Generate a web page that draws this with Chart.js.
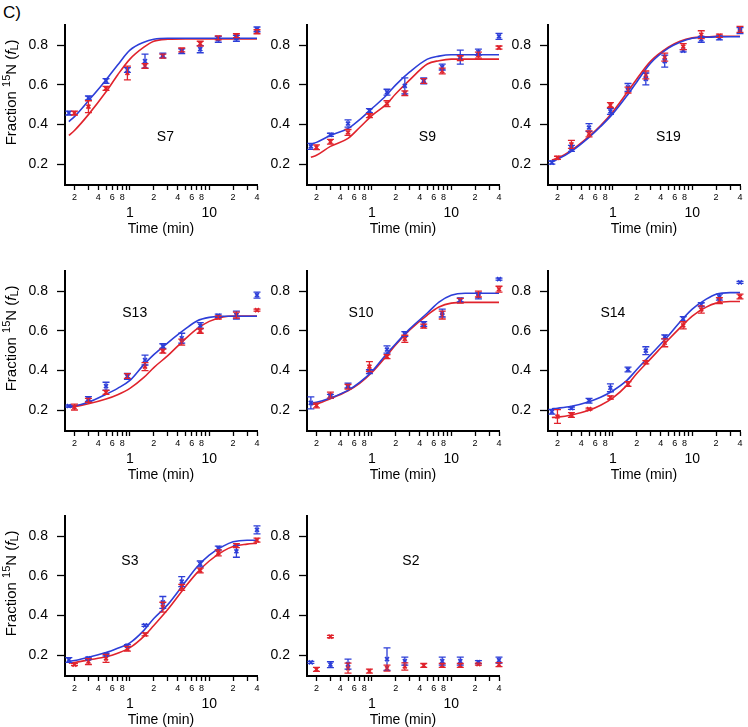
<!DOCTYPE html>
<html>
<head>
<meta charset="utf-8">
<script src="https://cdn.jsdelivr.net/npm/chart.js@4.4.0/dist/chart.umd.min.js"></script>
<style>
  html, body { margin: 0; padding: 0; background: #fff; overflow: hidden; }
  #wrap { position: relative; width: 748px; height: 727px; }
  #wrap canvas { position: absolute; }
  #tag { position: absolute; left: 3px; top: 3px; font: 17px "Liberation Sans", Arial, sans-serif; color: #000; }
</style>
</head>
<body>
<div id="wrap">
  <div id="tag">C)</div>
</div>
<script>
// sampling times (min); the red series starts slightly later
const blueTimes = [0.17, 0.3, 0.5, 0.93, 1.55, 2.6, 4.5, 7.7, 13, 22, 40];
const redTimes  = [0.2, 0.3, 0.5, 0.93, 1.55, 2.6, 4.5, 7.7, 13, 22, 40];
const fitTimes  = [0.17, 0.2, 0.3, 0.5, 0.7, 1, 1.5, 2, 3, 5, 7, 10, 15, 20, 30, 40];

// axis ticks
const xMinorTicks  = [0.2, 0.3, 0.4, 0.5, 0.6, 0.7, 0.8, 0.9, 1, 2, 3, 4, 5, 6, 7, 8, 9, 10, 20, 30, 40];
const xMinorLabels = ['2', '', '4', '', '6', '', '8', '', '', '2', '', '4', '', '6', '', '8', '', '', '2', '', '4'];
const xMajorTicks  = [1, 10];
const xMajorLabels = ['1', '10'];
const yTicks       = [0.2, 0.4, 0.6, 0.8];
const yTickLabels  = ['0.2', '0.4', '0.6', '0.8'];

// S7
const s7Blue    = [0.458, 0.534, 0.62, 0.675, 0.72, 0.748, 0.77, 0.78, 0.83, 0.835, 0.88];
const s7BlueErr = [0.01, 0.01, 0.012, 0.012, 0.035, 0.012, 0.012, 0.018, 0.015, 0.015, 0.012];
const s7Red     = [0.458, 0.49, 0.582, 0.66, 0.695, 0.745, 0.776, 0.808, 0.837, 0.848, 0.868];
const s7RedErr  = [0.01, 0.03, 0.01, 0.035, 0.012, 0.01, 0.01, 0.012, 0.01, 0.01, 0.01];
const s7BlueFit = [0.415, 0.44, 0.52, 0.625, 0.70, 0.775, 0.815, 0.83, 0.835, 0.835, 0.835, 0.835, 0.835, 0.835, 0.835, 0.835];
const s7RedFit  = [0.345, 0.37, 0.45, 0.565, 0.65, 0.73, 0.79, 0.82, 0.83, 0.832, 0.832, 0.832, 0.832, 0.832, 0.832, 0.832];

// S9
const s9Blue    = [0.29, 0.348, 0.405, 0.47, 0.563, 0.595, 0.62, 0.69, 0.74, 0.765, 0.845];
const s9BlueErr = [0.015, 0.008, 0.018, 0.01, 0.015, 0.04, 0.015, 0.015, 0.035, 0.015, 0.015];
const s9Red     = [0.285, 0.313, 0.36, 0.445, 0.505, 0.558, 0.62, 0.67, 0.735, 0.75, 0.788];
const s9RedErr  = [0.012, 0.012, 0.015, 0.01, 0.015, 0.012, 0.012, 0.015, 0.012, 0.015, 0.008];
const s9BlueFit = [0.30, 0.31, 0.345, 0.38, 0.425, 0.48, 0.545, 0.60, 0.665, 0.73, 0.745, 0.752, 0.752, 0.752, 0.752, 0.752];
const s9RedFit  = [0.235, 0.245, 0.29, 0.33, 0.385, 0.445, 0.50, 0.555, 0.625, 0.705, 0.722, 0.73, 0.73, 0.73, 0.73, 0.73];

// S19
const s19Blue    = [0.208, 0.28, 0.385, 0.466, 0.587, 0.63, 0.72, 0.772, 0.83, 0.837, 0.874];
const s19BlueErr = [0.008, 0.015, 0.02, 0.015, 0.02, 0.03, 0.03, 0.006, 0.015, 0.01, 0.015];
const s19Red     = [0.232, 0.30, 0.353, 0.498, 0.574, 0.65, 0.74, 0.793, 0.853, 0.848, 0.88];
const s19RedErr  = [0.008, 0.02, 0.015, 0.012, 0.015, 0.02, 0.02, 0.015, 0.02, 0.008, 0.015];
const s19BlueFit = [0.215, 0.225, 0.265, 0.335, 0.39, 0.455, 0.545, 0.615, 0.71, 0.785, 0.815, 0.835, 0.84, 0.842, 0.843, 0.843];
const s19RedFit  = [0.22, 0.23, 0.27, 0.34, 0.395, 0.465, 0.56, 0.63, 0.72, 0.79, 0.82, 0.837, 0.842, 0.845, 0.845, 0.845];

// S13
const s13Blue    = [0.221, 0.256, 0.321, 0.37, 0.453, 0.523, 0.563, 0.627, 0.676, 0.68, 0.78];
const s13BlueErr = [0.005, 0.012, 0.02, 0.015, 0.025, 0.012, 0.025, 0.015, 0.008, 0.02, 0.015];
const s13Red     = [0.216, 0.25, 0.29, 0.372, 0.42, 0.498, 0.543, 0.6, 0.668, 0.68, 0.705];
const s13RedErr  = [0.015, 0.01, 0.01, 0.012, 0.02, 0.01, 0.015, 0.012, 0.008, 0.015, 0.005];
const s13BlueFit = [0.22, 0.222, 0.24, 0.28, 0.31, 0.35, 0.43, 0.48, 0.54, 0.61, 0.65, 0.668, 0.674, 0.674, 0.674, 0.674];
const s13RedFit  = [0.215, 0.218, 0.232, 0.256, 0.278, 0.31, 0.365, 0.415, 0.475, 0.56, 0.61, 0.648, 0.67, 0.675, 0.675, 0.675];

// S10
const s10Blue    = [0.237, 0.27, 0.324, 0.394, 0.506, 0.584, 0.635, 0.69, 0.756, 0.776, 0.861];
const s10BlueErr = [0.03, 0.01, 0.012, 0.01, 0.018, 0.012, 0.012, 0.02, 0.01, 0.015, 0.005];
const s10Red     = [0.224, 0.276, 0.318, 0.42, 0.47, 0.56, 0.624, 0.68, 0.752, 0.786, 0.81];
const s10RedErr  = [0.012, 0.015, 0.012, 0.025, 0.01, 0.018, 0.01, 0.02, 0.012, 0.015, 0.015];
const s10BlueFit = [0.235, 0.24, 0.262, 0.30, 0.34, 0.395, 0.48, 0.535, 0.61, 0.69, 0.745, 0.78, 0.79, 0.79, 0.79, 0.79];
const s10RedFit  = [0.227, 0.232, 0.258, 0.298, 0.335, 0.39, 0.47, 0.53, 0.605, 0.68, 0.72, 0.74, 0.744, 0.744, 0.744, 0.744];

// S14
const s14Blue    = [0.192, 0.21, 0.248, 0.313, 0.405, 0.50, 0.57, 0.66, 0.732, 0.77, 0.845];
const s14BlueErr = [0.012, 0.006, 0.012, 0.02, 0.012, 0.02, 0.01, 0.012, 0.01, 0.015, 0.005];
const s14Red     = [0.168, 0.176, 0.205, 0.264, 0.332, 0.442, 0.54, 0.628, 0.708, 0.752, 0.773];
const s14RedErr  = [0.035, 0.012, 0.005, 0.008, 0.012, 0.008, 0.02, 0.018, 0.018, 0.015, 0.012];
const s14BlueFit = [0.207, 0.21, 0.22, 0.243, 0.265, 0.298, 0.35, 0.405, 0.48, 0.575, 0.645, 0.71, 0.76, 0.785, 0.793, 0.793];
const s14RedFit  = [0.163, 0.165, 0.176, 0.2, 0.225, 0.262, 0.325, 0.385, 0.46, 0.555, 0.615, 0.675, 0.72, 0.74, 0.748, 0.748];

// S3
const s3Blue    = [0.176, 0.184, 0.203, 0.248, 0.35, 0.466, 0.571, 0.66, 0.74, 0.724, 0.832];
const s3BlueErr = [0.012, 0.006, 0.006, 0.005, 0.005, 0.03, 0.025, 0.015, 0.01, 0.03, 0.02];
const s3Red     = [0.152, 0.168, 0.184, 0.232, 0.305, 0.442, 0.542, 0.627, 0.716, 0.753, 0.78];
const s3RedErr  = [0.005, 0.015, 0.02, 0.012, 0.008, 0.025, 0.015, 0.012, 0.015, 0.01, 0.01];
const s3BlueFit = [0.17, 0.173, 0.19, 0.213, 0.235, 0.262, 0.325, 0.385, 0.455, 0.57, 0.645, 0.705, 0.75, 0.772, 0.78, 0.78];
const s3RedFit  = [0.16, 0.163, 0.176, 0.192, 0.21, 0.238, 0.295, 0.35, 0.43, 0.545, 0.615, 0.675, 0.725, 0.748, 0.76, 0.765];

// S2 (no fit)
const s2Blue    = [0.164, 0.152, 0.155, null, 0.18, 0.17, null, 0.17, 0.17, 0.165, 0.175];
const s2BlueErr = [0.005, 0.015, 0.025, 0, 0.057, 0.02, 0, 0.02, 0.02, 0.008, 0.015];
const s2Red     = [0.128, 0.294, 0.135, 0.12, 0.135, 0.143, 0.148, 0.148, 0.148, 0.155, 0.152];
const s2RedErr  = [0.01, 0.006, 0.025, 0.01, 0.015, 0.018, 0.01, 0.01, 0.01, 0.005, 0.01];

// panel names and where the name sits (data coords)
const panelNames  = ['S7', 'S9', 'S19', 'S13', 'S10', 'S14', 'S3', 'S2'];
const panelLabelX = [2.8, 5, 5, 1.15, 0.73, 1.0, 1.0, 3.1];
const panelLabelY = [0.335, 0.335, 0.335, 0.69, 0.69, 0.69, 0.675, 0.675];

const BLUE = '#2d3ed8';
const RED = '#e0232c';
const FONT = '"Liberation Sans", Arial, sans-serif';

// draws vertical error bars with caps
const errorBarPlugin = {
    id: 'errorBars',
    afterDatasetsDraw(chart) {
        const ctx = chart.ctx;
        const ys = chart.scales.y;
        chart.data.datasets.forEach((ds, i) => {
            if (!ds.errors) return;
            const meta = chart.getDatasetMeta(i);
            ctx.save();
            ctx.strokeStyle = ds.borderColor;
            ctx.lineWidth = 1.3;
            meta.data.forEach((pt, j) => {
                const v = ds.data[j].y;
                const e = ds.errors[j];
                if (v === null || !e) return;
                const x = pt.x;
                const y1 = ys.getPixelForValue(v - e);
                const y2 = ys.getPixelForValue(v + e);
                ctx.beginPath();
                ctx.moveTo(x, y1); ctx.lineTo(x, y2);
                ctx.moveTo(x - 3.5, y1); ctx.lineTo(x + 3.5, y1);
                ctx.moveTo(x - 3.5, y2); ctx.lineTo(x + 3.5, y2);
                ctx.stroke();
            });
            ctx.restore();
        });
    }
};

// panel name inside the plot
const panelNamePlugin = {
    id: 'panelName',
    afterDraw(chart, args, opts) {
        const ctx = chart.ctx;
        ctx.save();
        ctx.font = '14px ' + FONT;
        ctx.fillStyle = '#000';
        ctx.textAlign = 'center';
        ctx.textBaseline = 'middle';
        ctx.fillText(opts.text, chart.scales.x.getPixelForValue(opts.x), chart.scales.y.getPixelForValue(opts.y));
        ctx.restore();
    }
};

// y axis title with superscript 15 and italic f with subscript L
const yTitlePlugin = {
    id: 'yTitle',
    afterDraw(chart, args, opts) {
        if (!opts.show) return;
        const ctx = chart.ctx;
        const parts = [
            { t: 'Fraction ', f: '15px ' + FONT, dy: 0 },
            { t: '15', f: '11px ' + FONT, dy: -5 },
            { t: 'N', f: '15px ' + FONT, dy: 0 },
            { t: ' (', f: '15px ' + FONT, dy: 0 },
            { t: 'f', f: 'italic 15px ' + FONT, dy: 0 },
            { t: 'L', f: '11px ' + FONT, dy: 3 },
            { t: ')', f: '15px ' + FONT, dy: 0 }
        ];
        ctx.save();
        let w = 0;
        parts.forEach(p => { ctx.font = p.f; p.w = ctx.measureText(p.t).width; w += p.w; });
        ctx.translate(chart.chartArea.left - 53, chart.chartArea.top + 67);
        ctx.rotate(-Math.PI / 2);
        ctx.fillStyle = '#000';
        ctx.textBaseline = 'middle';
        let x = -w / 2;
        parts.forEach(p => { ctx.font = p.f; ctx.fillText(p.t, x, p.dy); x += p.w; });
        ctx.restore();
    }
};

function pts(times, vals) {
    return times.map((t, i) => ({ x: t, y: vals[i] }));
}

function makePanel(idx, left, top, blue, blueErr, red, redErr, blueFit, redFit) {
    const canvas = document.createElement('canvas');
    canvas.width = 270;
    canvas.height = 230;
    canvas.style.left = left + 'px';
    canvas.style.top = top + 'px';
    document.getElementById('wrap').appendChild(canvas);

    const datasets = [];
    const markers = (times, vals, errs, color) => ({
        data: pts(times, vals), errors: errs, showLine: false,
        borderColor: color, backgroundColor: color,
        pointStyle: 'crossRot', pointRadius: 2.8, pointBorderWidth: 1.7, clip: false
    });
    datasets.push(markers(blueTimes, blue, blueErr, BLUE));
    datasets.push(markers(redTimes, red, redErr, RED));
    if (blueFit) {
        datasets.push({ data: pts(fitTimes, blueFit), borderColor: BLUE, borderWidth: 1.6, pointRadius: 0, cubicInterpolationMode: 'monotone', clip: false });
        datasets.push({ data: pts(fitTimes, redFit), borderColor: RED, borderWidth: 1.6, pointRadius: 0, cubicInterpolationMode: 'monotone', clip: false });
    }

    new Chart(canvas, {
        type: 'line',
        data: { datasets },
        options: {
            responsive: false,
            animation: false,
            devicePixelRatio: 1,
            layout: { padding: { left: 0, top: 10, right: 13, bottom: 0 } },
            plugins: {
                legend: { display: false },
                tooltip: { enabled: false },
                panelName: { text: panelNames[idx], x: panelLabelX[idx], y: panelLabelY[idx] },
                yTitle: { show: idx % 3 === 0 }
            },
            scales: {
                x: {
                    type: 'logarithmic', position: 'bottom', weight: 0,
                    min: 0.152, max: 40,
                    afterBuildTicks: s => { s.ticks = xMinorTicks.map(v => ({ value: v })); },
                    afterFit: s => { s.height = 18; },
                    ticks: {
                        autoSkip: false, maxRotation: 0, minRotation: 0, padding: 2, color: '#000',
                        font: { size: 9, family: FONT },
                        callback: (v, i) => xMinorLabels[i]
                    },
                    grid: { drawOnChartArea: false, tickLength: 5, tickWidth: 1.3, tickColor: '#000' },
                    border: { color: '#000', width: 2 }
                },
                x2: {
                    type: 'logarithmic', position: 'bottom', weight: 1,
                    min: 0.152, max: 40,
                    afterBuildTicks: s => { s.ticks = xMajorTicks.map(v => ({ value: v })); },
                    afterFit: s => { s.height = 35; },
                    ticks: {
                        autoSkip: false, maxRotation: 0, minRotation: 0, padding: 2, color: '#000',
                        font: { size: 14, family: FONT },
                        callback: (v, i) => xMajorLabels[i]
                    },
                    grid: { display: false, drawTicks: false },
                    border: { display: false },
                    title: { display: true, text: 'Time (min)', color: '#000', font: { size: 14, family: FONT }, padding: 0 }
                },
                y: {
                    min: 0.095, max: 0.9,
                    afterBuildTicks: s => { s.ticks = yTicks.map(v => ({ value: v })); },
                    afterFit: s => { s.width = 65; },
                    ticks: {
                        padding: 9, color: '#000',
                        font: { size: 14, family: FONT },
                        callback: (v, i) => yTickLabels[i]
                    },
                    grid: { drawOnChartArea: false, tickLength: 8, tickWidth: 1.3, tickColor: '#000' },
                    border: { color: '#000', width: 2 }
                }
            }
        },
        plugins: [errorBarPlugin, panelNamePlugin, yTitlePlugin]
    });
}

// canvas positions: left = axis x - 65, top = plot top - 10
const colLeft = [0, 242, 483];
const rowTop = [8, 254, 499];

makePanel(0, colLeft[0], rowTop[0], s7Blue, s7BlueErr, s7Red, s7RedErr, s7BlueFit, s7RedFit);
makePanel(1, colLeft[1], rowTop[0], s9Blue, s9BlueErr, s9Red, s9RedErr, s9BlueFit, s9RedFit);
makePanel(2, colLeft[2], rowTop[0], s19Blue, s19BlueErr, s19Red, s19RedErr, s19BlueFit, s19RedFit);
makePanel(3, colLeft[0], rowTop[1], s13Blue, s13BlueErr, s13Red, s13RedErr, s13BlueFit, s13RedFit);
makePanel(4, colLeft[1], rowTop[1], s10Blue, s10BlueErr, s10Red, s10RedErr, s10BlueFit, s10RedFit);
makePanel(5, colLeft[2], rowTop[1], s14Blue, s14BlueErr, s14Red, s14RedErr, s14BlueFit, s14RedFit);
makePanel(6, colLeft[0], rowTop[2], s3Blue, s3BlueErr, s3Red, s3RedErr, s3BlueFit, s3RedFit);
makePanel(7, colLeft[1], rowTop[2], s2Blue, s2BlueErr, s2Red, s2RedErr, null, null);
</script>
</body>
</html>
